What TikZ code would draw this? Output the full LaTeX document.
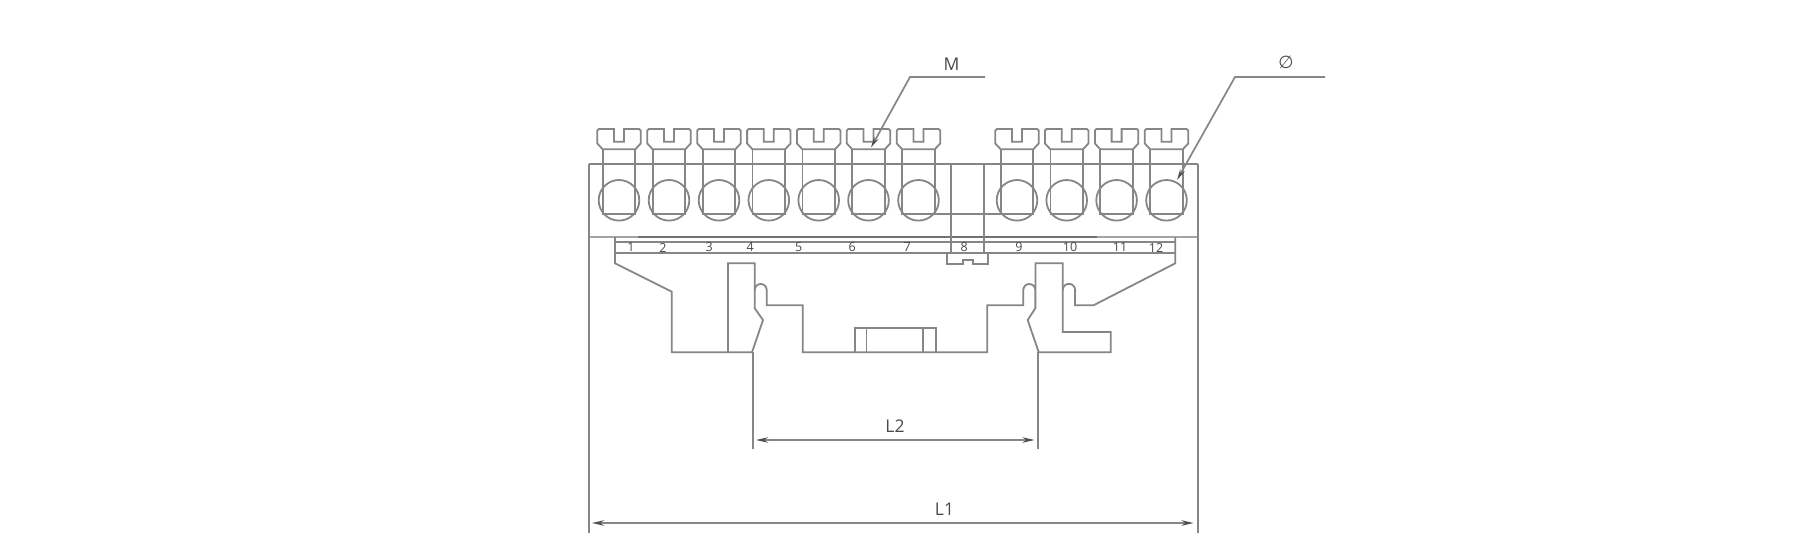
\documentclass[tikz,border=0pt]{standalone}
\usepackage{fontspec}
\setmainfont{Open Sans}
\newfontfamily\symfont{DejaVu Sans}
\usetikzlibrary{arrows.meta}
\definecolor{ink}{HTML}{868686}
\definecolor{tip}{HTML}{505050}
\definecolor{txt}{HTML}{4A4A4A}
\tikzset{
  part/.style={draw=ink,line width=1.8pt,line join=miter},
  thin part/.style={draw=ink,line width=1.8pt},
  dim/.style={draw=ink,line width=1.8pt,{Stealth[length=12pt,width=5.5pt,color=tip]}-{Stealth[length=12pt,width=5.5pt,color=tip]}},
  leader/.style={draw=ink,line width=1.7pt,-{Stealth[length=11pt,width=5pt,color=tip]}},
  num/.style={font=\fontsize{12.5}{13}\selectfont,text=txt,inner sep=0pt},
  lab/.style={font=\fontsize{17.5}{18}\selectfont,text=txt,inner sep=0pt}
}
\newcommand{\screwunit}[1]{%
  \begin{scope}[shift={(#1,0)}]
    \draw[part] (-21.7,130.5) -- (-20.2,129) -- (-5,129) -- (-5,141.7) -- (5,141.7) -- (5,129) -- (20.2,129) -- (21.7,130.5)
      -- (21.7,143.5) -- (16.3,149.3) -- (-16.3,149.3) -- (-21.7,143.5) -- cycle;
    \draw[part] (-16.3,149.3) -- (-16.3,214) -- (16.3,214) -- (16.3,149.3);
    \draw[part] (0,200.3) circle[radius=20.3];
  \end{scope}}
\begin{document}
\begin{tikzpicture}[x=1pt,y=-1pt]
\useasboundingbox[fill=white] (0,0) rectangle (1802,554);
\foreach \cx in {619,669,719,768.8,818.7,868.5,918.5,1017,1066.7,1116.6,1166.5}{\screwunit{\cx}}
% main body
\draw[part] (588.6,164) -- (1197.8,164);
\draw[draw=ink!75,line width=2pt] (588.6,237) -- (1197.8,237);
\draw[draw=ink!85!black,line width=2pt] (638,236.7) -- (1097,236.7);
% centre terminal
\draw[part] (951.3,164) -- (951.3,252.7) (984,164) -- (984,252.7);
\draw[part] (934.3,214) -- (1000.7,214);
\draw[part] (947.3,252.7) -- (947.3,263.7) -- (963.3,263.7) -- (963.3,260) -- (972.7,260) -- (972.7,263.7) -- (988.3,263.7) -- (988.3,252.7);
% number strip
\draw[part] (615,242.3) -- (1175.3,242.3) (615,252.7) -- (1175.3,252.7);
% outline
\draw[part] (615,237) -- (615,263.3) -- (671.7,291.7) -- (671.7,352.3) -- (752,352.3)
  -- (763,320) -- (754.7,308.3) -- (754.7,263.3) -- (728,263.3) -- (728,352.3);
\draw[part] (754.7,290) arc[start angle=180,end angle=360,radius=6] -- (766.7,305.3) -- (802.7,305.3) -- (802.7,352.3)
  -- (987.3,352.3) -- (987.3,305.3) -- (1023.3,305.3) -- (1023.3,290) arc[start angle=180,end angle=360,radius=6]
  -- (1035.3,308.3) -- (1027.7,320) -- (1038.7,352.3) -- (1110.7,352.3) -- (1110.7,332) -- (1062.7,332) -- (1062.7,263.3) -- (1035.5,263.3) -- (1035.5,308.3);
\draw[part] (1062.7,290) arc[start angle=180,end angle=360,radius=6.2] -- (1075,305.3) -- (1093.5,305.3) -- (1175.3,263.3) -- (1175.3,237);
\draw[part] (855,352.3) -- (855,328) -- (935.7,328) -- (935.7,352.3) (866.5,328) -- (866.5,352.3) (922.7,328) -- (922.7,352.3);
% numbers
\foreach \n/\x in {1/631,2/663,3/709.3,4/750.3,5/798.7,6/852.3,7/907.3,8/964.3,9/1019,10/1070,11/1120,12/1156}{
  \node[num] (n\n) at (\x,247.5) {\n};}
% extension lines
\coordinate (e1a) at (588.6,164); \coordinate (e1b) at (588.6,533);
\coordinate (e2a) at (1197.8,164); \coordinate (e2b) at (1197.8,533);
\coordinate (e3a) at (752.6,352.3); \coordinate (e3b) at (752.6,449);
\coordinate (e4a) at (1038,352.3); \coordinate (e4b) at (1038,449);
\draw[thin part] (e1a) -- (e1b);
\draw[thin part] (e2a) -- (e2b);
\draw[thin part] (e3a) -- (e3b);
\draw[thin part] (e4a) -- (e4b);
% dimensions
\coordinate (d1a) at (592,523); \coordinate (d1b) at (1193.5,523);
\coordinate (d2a) at (756,440); \coordinate (d2b) at (1034.5,440);
\draw[dim] (d1a) -- (d1b);
\draw[dim] (d2a) -- (d2b);
\node[lab] (L1) at (944.5,509) {L1};
\node[lab] (L2) at (895,426.5) {L2};
% leaders
\coordinate (m0) at (985,77); \coordinate (m1) at (910,77); \coordinate (m2) at (871,147.5);
\coordinate (p0) at (1325,77); \coordinate (p1) at (1235,77); \coordinate (p2) at (1177,180);
\draw[leader] (m0) -- (m1) -- (m2);
\draw[leader] (p0) -- (p1) -- (p2);
\node[lab] (M) at (951.5,64.5) {M};
\node[lab] (D) at (1286,62) {\symfont ∅};
\end{tikzpicture}
\end{document}
